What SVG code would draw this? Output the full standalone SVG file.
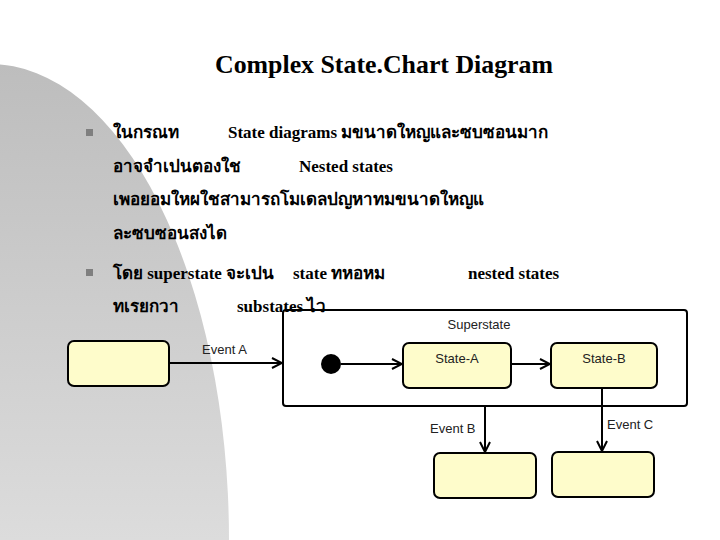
<svg xmlns="http://www.w3.org/2000/svg" width="720" height="540" viewBox="0 0 720 540">
  <defs>
    <linearGradient id="bgGrad" x1="0" y1="0" x2="0" y2="1">
      <stop offset="0" stop-color="#bdbdbd"/>
      <stop offset="1" stop-color="#dcdcdc"/>
    </linearGradient>
    <marker id="open" viewBox="0 0 12 12" refX="11" refY="6" markerWidth="12" markerHeight="12" markerUnits="userSpaceOnUse" orient="auto">
      <path d="M1,1 L11,6 L1,11" fill="none" stroke="#000" stroke-width="2"/>
    </marker>
    <style>
      .title { font-family: "Liberation Serif", "DejaVu Serif", serif; font-weight: bold; font-size: 26px; fill: #000; }
      .body { font-family: "Liberation Serif", "DejaVu Serif", "Noto Sans", serif; font-weight: bold; font-size: 17px; fill: #000; }
      .lbl { font-family: "Liberation Sans", Arial, sans-serif; font-size: 13px; fill: #222; }
      .state { fill: #fefccb; stroke: #000; stroke-width: 2; }
      .edge { fill: none; stroke: #000; stroke-width: 2; }
      .bullet { fill: #7f7f7f; }
    </style>
  </defs>

  <rect x="0" y="0" width="720" height="540" fill="#ffffff"/>
  <path d="M-10,64 A239,476 0 0 1 229,540 L0,540 L0,64 Z" fill="url(#bgGrad)"/>

  <text class="title" x="384" y="73" text-anchor="middle" textLength="338" lengthAdjust="spacingAndGlyphs">Complex State.Chart Diagram</text>

  <g id="bullets">
    <rect class="bullet" x="86" y="129" width="7" height="7"/>
    <rect class="bullet" x="86" y="269" width="7" height="7"/>
  </g>

  <g id="text">
    <text class="body" x="113" y="138">ในกรณท</text>
    <text class="body" x="228" y="138">State diagrams มขนาดใหญและซบซอนมาก</text>
    <text class="body" x="113" y="172">อาจจำเปนตองใช</text>
    <text class="body" x="299" y="172">Nested states</text>
    <text class="body" x="113" y="205">เพอยอมใหผใชสามารถโมเดลปญหาทมขนาดใหญแ</text>
    <text class="body" x="113" y="239">ละซบซอนสงได</text>
    <text class="body" x="113" y="279">โดย superstate จะเปน</text>
    <text class="body" x="293" y="279">state ทหอหม</text>
    <text class="body" x="468" y="279">nested states</text>
    <text class="body" x="113" y="312">ทเรยกวา</text>
    <text class="body" x="237" y="312">substates ไว</text>
  </g>

  <g id="superstate">
    <rect x="283" y="310" width="404" height="96" rx="3" fill="none" stroke="#000" stroke-width="2"/>
    <text class="lbl" x="479" y="329" text-anchor="middle">Superstate</text>
  </g>

  <g id="source">
    <rect class="state" x="68" y="341" width="101" height="45" rx="6"/>
  </g>
  <g id="initial">
    <circle cx="331" cy="364" r="10" fill="#000"/>
  </g>
  <g id="stateA">
    <rect class="state" x="403" y="343" width="108" height="45" rx="6"/>
    <text class="lbl" x="457" y="363" text-anchor="middle">State-A</text>
  </g>
  <g id="stateB">
    <rect class="state" x="551" y="343" width="106" height="45" rx="6"/>
    <text class="lbl" x="604" y="363" text-anchor="middle">State-B</text>
  </g>
  <g id="targetB">
    <rect class="state" x="434" y="453" width="102" height="45" rx="6"/>
  </g>
  <g id="targetC">
    <rect class="state" x="552" y="452" width="102" height="45" rx="6"/>
  </g>

  <g id="connectors">
    <line class="edge" x1="169" y1="363" x2="282" y2="363" marker-end="url(#open)"/>
    <line class="edge" x1="341" y1="364" x2="402" y2="364" marker-end="url(#open)"/>
    <line class="edge" x1="511" y1="364" x2="550" y2="364" marker-end="url(#open)"/>
    <line class="edge" x1="485" y1="406" x2="485" y2="452" marker-end="url(#open)"/>
    <line class="edge" x1="602" y1="388" x2="602" y2="451" marker-end="url(#open)"/>
    <text class="lbl" x="202" y="354">Event A</text>
    <text class="lbl" x="430" y="433">Event B</text>
    <text class="lbl" x="607" y="429">Event C</text>
  </g>
</svg>
